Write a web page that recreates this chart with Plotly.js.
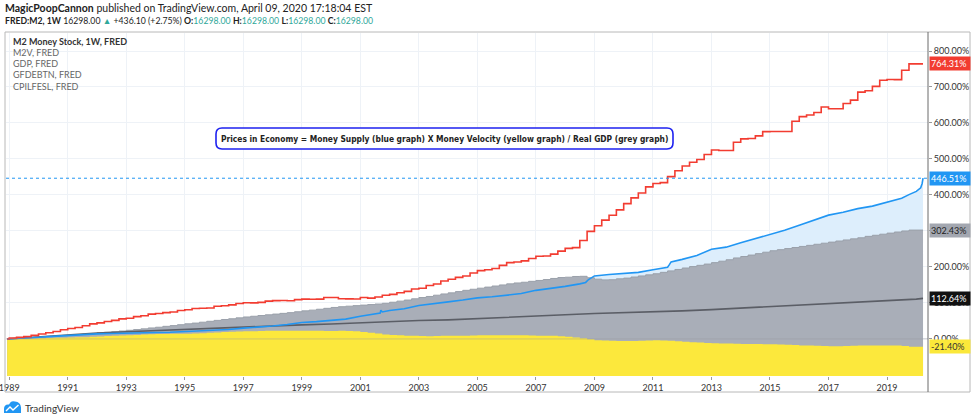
<!DOCTYPE html>
<html><head><meta charset="utf-8">
<script src="https://cdn.plot.ly/plotly-3.0.1.min.js"></script>
<style>html,body{margin:0;padding:0;background:#fff}#chart{width:974px;height:418px}</style>
</head><body><div id="chart"></div>
<script>
// ---------- DATA (percent change since first bar) ----------
const firstQuarterYear = 1989, lastQuarterYear = 2019;
const seriesStart = 1988.93, seriesEnd = 2020.23;

// GFDEBTN (federal debt), quarterly 1989Q1..2019Q4
const debtPct = [
  2.1, 4.3, 6.4, 10.0,   13.7, 17.1, 20.5, 25.4,   29.1, 31.8, 36.6, 41.7,   44.6, 48.5, 51.5, 55.6,
  57.6, 62.1, 64.3, 69.0,   70.5, 73.1, 74.8, 78.9,   81.2, 84.5, 85.3, 85.9,   90.6, 92.3, 94.7, 98.3,
  100.4, 100.3, 101.7, 105.0,   106.5, 106.7, 105.9, 109.2,   110.5, 110.1, 110.7, 115.2,   115.1, 111.8, 111.4, 111.0,
  115.1, 113.3, 116.4, 121.4,   123.8, 128.2, 132.0, 138.7,   140.7, 148.5, 152.7, 160.8,   165.7, 171.0, 174.9, 183.0,
  189.8, 192.0, 195.6, 204.4,   211.9, 213.7, 217.0, 223.4,   229.7, 230.4, 235.6, 243.9,   251.6, 253.7, 273.5, 298.7,
  314.6, 330.1, 343.7, 358.7,   375.9, 391.8, 405.3, 422.5,   431.7, 434.4, 451.0, 467.1,   480.6, 490.8, 498.6, 512.3,
  524.9, 523.6, 523.6, 546.5,   555.8, 557.0, 564.1, 575.9,   576.3, 576.3, 576.3, 605.0,   617.7, 622.1, 629.2, 644.3,
  639.5, 639.4, 654.3, 663.5,   685.7, 689.7, 701.6, 718.7,   720.7, 720.5, 746.5, 764.31
];
// GDP, quarterly 1989Q1..2019Q4
const gdpPct = [
  0, 1.5, 3, 4,   5.5, 7, 8, 8.5,   9.5, 11, 13, 15,   17, 18.5, 20, 22,
  24, 26, 28, 30.5,   32.5, 35, 37, 39.5,   42, 44, 46.5, 49,   51.5, 54, 56, 58.5,
  61, 63, 65, 67,   69, 71, 73, 75.5,   78, 80, 82.5, 85,   87.5, 89.5, 91, 92.5,
  94, 95.5, 97, 99,   102, 105, 108, 111.5,   115, 118, 121.5, 125,   128, 131.5, 135, 138,
  141, 144, 147, 150,   153, 155.5, 157.5, 160,   162.5, 165, 168, 170.5,   171.5, 173.5, 174, 170,
  166, 164, 164.5, 167,   169, 172, 175, 178,   181, 185, 189, 193,   197, 201, 204.5, 208,
  212, 216, 220, 225,   229, 233, 237, 241,   245, 248, 251, 254,   257, 260, 263, 266,
  269, 272, 275, 278,   281, 285, 288, 291,   294, 297, 300, 302.43
];
// M2V (money velocity), quarterly 1989Q1..2019Q4
const m2vPct = [
  0, 0.5, 1, 1.5,   2, 2.5, 3, 3,   4, 4.5, 5, 6,   7, 8, 9, 9.5,
  10, 11, 12, 13,   13.5, 14, 14.5, 14.5,   14.5, 15, 16, 17,   18, 19, 20, 20.5,
  21, 21.5, 22, 22.5,   23, 23, 22.5, 22.5,   23, 23, 22.5, 22,   22, 22.5, 22, 21,
  19, 17, 15, 12,   11, 10, 9, 8.5,   8, 7.5, 8, 8.5,   8.5, 9, 9, 9.5,
  10, 10, 10.5, 10.5,   10.5, 10, 10, 9.5,   9, 9, 8.5, 7.5,   6, 4, 2, -1,
  -3.5, -4.5, -5, -5.5,   -6, -5.5, -5, -4.5,   -4, -4.5, -5, -6.5,   -8, -9, -10, -11,
  -12, -12.5, -13, -13.5,   -14, -14, -14, -14.5,   -15, -15.5, -16, -17,   -18, -18.5, -19, -19.5,
  -20, -20, -19.5, -19,   -18.5, -18, -18, -18,   -18, -18.5, -19.5, -21.40
];
// M2 Money Stock (weekly, sampled)
const m2Dates = [1988.93, 1989.5, 1990, 1990.5, 1991, 1991.5, 1992, 1992.5, 1993, 1993.5, 1994, 1994.5, 1995, 1995.5,
  1996, 1996.5, 1997, 1997.5, 1998, 1998.5, 1999, 1999.5, 2000, 2000.5, 2001, 2001.5, 2001.68, 2001.7, 2001.75,
  2002, 2002.5, 2003, 2003.5, 2004, 2004.5, 2005, 2005.5, 2006, 2006.5, 2007, 2007.5, 2008, 2008.5, 2008.7, 2008.8,
  2009, 2009.5, 2010, 2010.5, 2011, 2011.5, 2011.55, 2011.62, 2012, 2012.5, 2013, 2013.5, 2014, 2014.5, 2015, 2015.5,
  2016, 2016.5, 2017, 2017.5, 2018, 2018.5, 2019, 2019.5, 2019.75, 2020, 2020.15, 2020.2, 2020.23];
const m2Pct = [0, 1.5, 4.5, 7, 10, 12, 14, 15, 16.5, 17, 18, 18.5, 20, 21,
  24, 26, 30, 32.5, 36, 40, 45.5, 48, 52, 55, 63, 70, 72, 80, 75,
  79, 84, 93, 99, 103, 108, 114, 117, 121, 126, 135, 140, 146, 153, 157, 165,
  175, 179, 181, 185, 192, 199, 205, 214, 221, 232, 249, 255, 267, 278, 291, 302,
  316, 330, 344, 352, 362, 369, 380, 391, 401, 410, 420, 432, 446.51];
// CPILFESL (core CPI), monthly sampled yearly
const cpiDates = [1988.93, 1990, 1991, 1992, 1993, 1994, 1995, 1996, 1997, 1998, 1999, 2000, 2001, 2002, 2003, 2004,
  2005, 2006, 2007, 2008, 2009, 2010, 2011, 2012, 2013, 2014, 2015, 2016, 2017, 2018, 2019, 2020, 2020.23];
const cpiPct = [0, 6, 12, 16.5, 20, 23.5, 27, 30, 33, 36, 39, 41.5, 45, 48, 51, 53,
  56, 59.5, 63, 67, 70.5, 72.5, 74.5, 78, 81.5, 86, 89.5, 93.5, 98, 102, 106.5, 110.5, 112.64];

const xTickYears = [1989, 1991, 1993, 1995, 1997, 1999, 2001, 2003, 2005, 2007, 2009, 2011, 2013, 2015, 2017, 2019];
const xTickText = ['1989', '1991', '1993', '1995', '1997', '1999', '2001', '2003', '2005', '2007', '2009', '2011', '2013', '2015', '2017', '2019'];
const yTickVals = [0, 100, 200, 300, 400, 500, 600, 700, 800];
const yTickText = ['0.00%', '100.00%', '200.00%', '300.00%', '400.00%', '500.00%', '600.00%', '700.00%', '800.00%'];

const legendLines = ['M2 Money Stock, 1W, FRED', 'M2V, FRED', 'GDP, FRED', 'GFDEBTN, FRED', 'CPILFESL, FRED'];
const noteText = 'Prices in Economy = Money Supply (blue graph) X Money Velocity (yellow graph) / Real GDP (grey graph)';

// ---------- BUILD ----------
const W = 974, H = 418, L = 6, R = 928, T = 33, B = 376;
const px = x => (x - L) / (R - L);
const py = y => (B - y) / (B - T);
const BASE = -400;

const qx = [];
for (let y = firstQuarterYear; y <= lastQuarterYear; y++) for (let q = 0; q < 4; q++) qx.push(y + q * 0.25);
const stepX = [seriesStart, ...qx, seriesEnd];
const stepY = v => [0, ...v, v[v.length - 1]];
const last = a => a[a.length - 1];

const C = {red: '#f23c31', blue: '#2196f3', blueFill: '#ddeefc', grey: '#a9aeb8', greyEdge: '#9aa0aa', yellow: '#fce83c', cpi: '#5b5e66'};

const baseTrace = () => ({x: [seriesStart, seriesEnd], y: [BASE, BASE], mode: 'lines', line: {width: 0}, hoverinfo: 'skip', showlegend: false});
const traces = [
  baseTrace(),
  {x: m2Dates, y: m2Pct, mode: 'lines', line: {width: 0}, fill: 'tonexty', fillcolor: C.blueFill, showlegend: false},
  baseTrace(),
  {x: stepX, y: stepY(gdpPct), mode: 'lines', line: {width: 1, color: C.greyEdge, shape: 'hv'}, fill: 'tonexty', fillcolor: C.grey, showlegend: false},
  baseTrace(),
  {x: stepX, y: stepY(m2vPct), mode: 'lines', line: {width: 0, shape: 'hv'}, fill: 'tonexty', fillcolor: C.yellow, showlegend: false},
  {x: cpiDates, y: cpiPct, mode: 'lines', line: {width: 1.6, color: C.cpi}, showlegend: false},
  {x: m2Dates, y: m2Pct, mode: 'lines', line: {width: 1.6, color: C.blue}, showlegend: false},
  {x: stepX, y: stepY(debtPct), mode: 'lines', line: {width: 1.6, color: C.red, shape: 'hv'}, showlegend: false}
];

const UI = 'Lato, "Open Sans", sans-serif';
const ann = [];
ann.push({xref: 'paper', yref: 'paper', x: px(3), y: py(8), xanchor: 'left', yanchor: 'middle', showarrow: false,
  text: '<b>MagicPoopCannon</b> published on TradingView.com, April 09, 2020 17:18:04 EST', font: {family: UI, size: 10.5, color: '#222'}});
const tv = '#2fa89a';
ann.push({xref: 'paper', yref: 'paper', x: px(3), y: py(20), xanchor: 'left', yanchor: 'middle', showarrow: false,
  text: '<b>FRED:M2, 1W</b> 16298.00 <span style="color:' + tv + '">▲</span> +436.10 (+2.75%) <b>O:</b><span style="color:' + tv + '">16298.00</span> <b>H:</b><span style="color:' + tv + '">16298.00</span> <b>L:</b><span style="color:' + tv + '">16298.00</span> <b>C:</b><span style="color:' + tv + '">16298.00</span>',
  font: {family: UI, size: 8.7, color: '#222'}});
legendLines.forEach((t, i) => ann.push({xref: 'paper', yref: 'paper', x: px(11), y: py(41 + i * 11.3), xanchor: 'left', yanchor: 'middle', showarrow: false,
  text: i === 0 ? '<b>' + t + '</b>' : t, font: {family: UI, size: 9, color: i === 0 ? '#333' : '#666'}}));
ann.push({xref: 'paper', yref: 'paper', x: px(444.5), y: py(138.5), xanchor: 'center', yanchor: 'middle', showarrow: false,
  text: '<b>' + noteText + '</b>', font: {family: '"DejaVu Sans Condensed", "DejaVu Sans", sans-serif', size: 8.4, color: '#222'}});
ann.push({xref: 'paper', yref: 'paper', x: px(23), y: py(408), xanchor: 'left', yanchor: 'middle', showarrow: false,
  text: 'TradingView', font: {family: UI, size: 10, color: '#333'}});

const tags = [
  {v: last(debtPct), bg: '#f23c31', fg: '#fff'},
  {v: last(m2Pct), bg: '#2196f3', fg: '#fff'},
  {v: last(gdpPct), bg: '#a3a7b0', fg: '#222'},
  {v: last(cpiPct), bg: '#111', fg: '#fff'},
  {v: last(m2vPct), bg: '#fbe83a', fg: '#333'}
];
tags.forEach(t => ann.push({xref: 'paper', yref: 'y', x: 1, xshift: 1, y: t.v, xanchor: 'left', yanchor: 'middle', showarrow: false,
  text: t.v.toFixed(2) + '%', bgcolor: t.bg, font: {family: UI, size: 9, color: t.fg}, width: 38, height: 11, align: 'left', borderpad: 1}));

// rounded note box
const bx0 = 216, bx1 = 673, by0 = 128, by1 = 149, r = 6;
const P = (x, y) => px(x) + ',' + py(y);
const boxPath = 'M' + P(bx0 + r, by0) + ' L' + P(bx1 - r, by0) + ' Q' + P(bx1, by0) + ' ' + P(bx1, by0 + r) +
  ' L' + P(bx1, by1 - r) + ' Q' + P(bx1, by1) + ' ' + P(bx1 - r, by1) + ' L' + P(bx0 + r, by1) + ' Q' + P(bx0, by1) + ' ' + P(bx0, by1 - r) +
  ' L' + P(bx0, by0 + r) + ' Q' + P(bx0, by0) + ' ' + P(bx0 + r, by0) + ' Z';
const logoPath = 'M' + P(4, 413) + ' L' + P(4, 409) + ' Q' + P(4, 404) + ' ' + P(9, 404.5) + ' Q' + P(11, 400) + ' ' + P(15, 401.5) +
  ' Q' + P(20.5, 402) + ' ' + P(21, 407.5) + ' L' + P(21, 413) + ' Z';
const logoLine = 'M' + P(6, 411) + ' L' + P(10, 407) + ' L' + P(13, 410) + ' L' + P(18.5, 405);

const shapes = [
  {type: 'line', xref: 'paper', yref: 'y', x0: 0, x1: 1, y0: 0, y1: 0, layer: 'above', line: {color: 'rgba(150,150,160,0.45)', width: 1}},
  {type: 'line', xref: 'paper', yref: 'y', x0: 0, x1: 1, y0: last(m2Pct), y1: last(m2Pct), layer: 'above', line: {color: C.blue, width: 1, dash: 'dot'}},
  {type: 'rect', xref: 'paper', yref: 'paper', x0: px(5), x1: px(970), y0: py(392), y1: py(32), line: {color: '#b8b8b8', width: 1}, layer: 'above'},
  {type: 'line', xref: 'paper', yref: 'paper', x0: px(928), x1: px(928), y0: py(392), y1: py(32), line: {color: '#6b6b6b', width: 1}, layer: 'above'},
  {type: 'path', xref: 'paper', yref: 'paper', path: boxPath, fillcolor: 'rgba(255,255,255,0.92)', line: {color: '#1e22f0', width: 1.6}, layer: 'above'},
  {type: 'path', xref: 'paper', yref: 'paper', path: logoPath, fillcolor: '#2196f3', line: {width: 0}, layer: 'above'},
  {type: 'path', xref: 'paper', yref: 'paper', path: logoLine, line: {color: '#fff', width: 1.4}, layer: 'above'}
];

const layout = {
  width: W, height: H, autosize: false,
  margin: {l: L, r: W - R, t: T, b: H - B, pad: 0},
  paper_bgcolor: '#fff', plot_bgcolor: '#fff', showlegend: false,
  font: {family: UI, size: 9, color: '#333'},
  xaxis: {range: [1988.89, 2020.40], tickvals: xTickYears, ticktext: xTickText, ticks: 'outside', ticklen: 3, tickcolor: '#999',
    ticklabeloverflow: 'allow',
    showgrid: true, gridcolor: '#eef2f7', zeroline: false, showline: false, fixedrange: true, automargin: false,
    tickfont: {family: UI, size: 9, color: '#333'}},
  yaxis: {range: [-103, 850], side: 'right', tickvals: yTickVals, ticktext: yTickText, ticks: 'outside', ticklen: 3, tickcolor: '#999',
    showgrid: true, gridcolor: '#eef2f7', zeroline: false, showline: false, fixedrange: true, automargin: false,
    tickfont: {family: UI, size: 9, color: '#333'}},
  annotations: ann, shapes: shapes
};
Plotly.newPlot('chart', traces, layout, {staticPlot: true, displayModeBar: false});
</script></body></html>
